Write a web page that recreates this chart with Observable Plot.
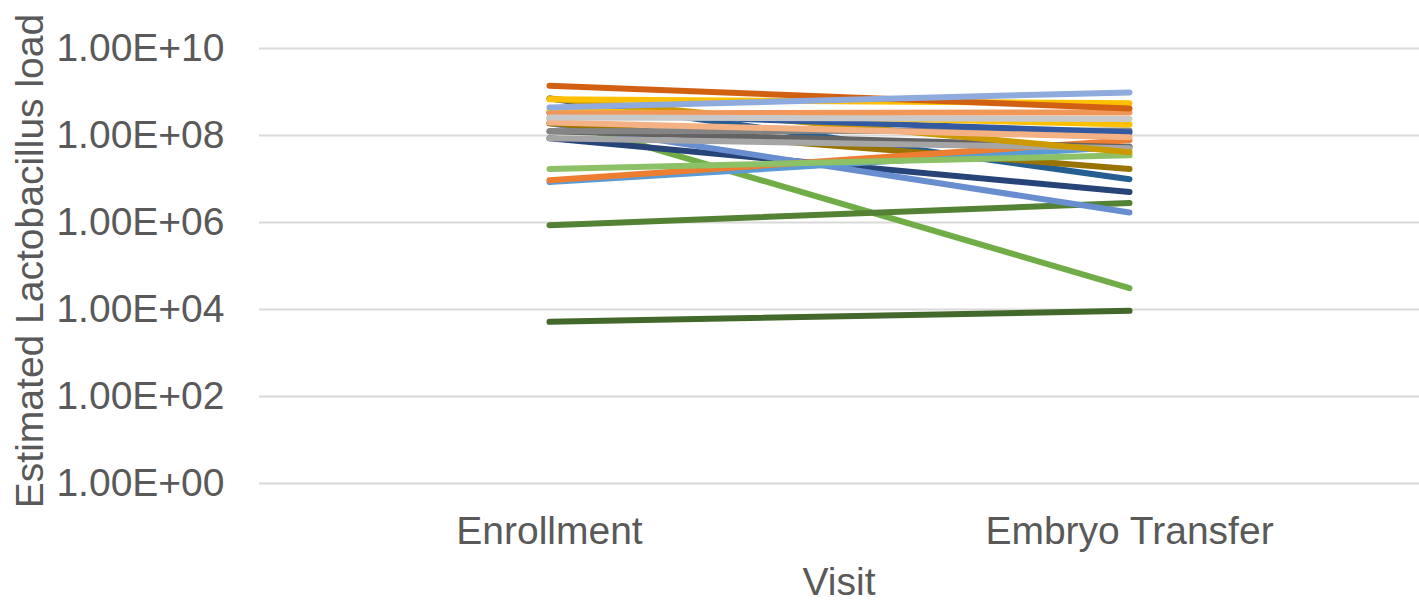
<!DOCTYPE html>
<html>
<head>
<meta charset="utf-8">
<script src="https://cdn.jsdelivr.net/npm/d3@7"></script>
<script src="https://cdn.jsdelivr.net/npm/@observablehq/plot@0.6"></script>
<style>
  html, body { margin: 0; padding: 0; background: #fff; }
</style>
</head>
<body>
<div id="chart"></div>
<script>
// Categories
const visits = ["Enrollment", "Embryo Transfer"];

// Series values (one entry per patient line)
const enrollmentValues = [2.5e8, 5.2e3, 8.7e5, 8.6e7, 1.9e8, 7.1e8, 1.9e8, 8.5e6, 9.4e6, 1.7e7, 1.25e8, 8.6e7, 7.1e8, 1.25e8, 3.4e8, 2.0e8, 3.8e8, 3.2e8, 2.6e8, 6.8e8, 1.4e9, 4.4e8];
const transferValues   = [3.1e4, 9.3e3, 2.8e6, 5.0e6, 1.7e6, 9.9e6, 1.7e7, 5.6e7, 7.8e7, 3.5e7, 5.4e7, 5.1e7, 4.1e7, 1.3e8, 1.18e8, 9.1e7, 1.8e8, 3.4e8, 2.4e8, 5.5e8, 4.2e8, 9.8e8];

// Series colours
const seriesColors = ["#70AD47", "#43682B", "#548235", "#264478", "#698ED0", "#255E91", "#997300", "#5B9BD5", "#ED7D31", "#8CC168", "#636363", "#A5A5A5", "#CC9A00", "#848484", "#335AA1", "#F4B183", "#FFC000", "#F1975A", "#C9C9C9", "#FFC000", "#D26012", "#8FAADC"];

// Tick values
const yTicks = [1e0, 1e2, 1e4, 1e6, 1e8, 1e10];
const yTickLabels = ["1.00E+00", "1.00E+02", "1.00E+04", "1.00E+06", "1.00E+08", "1.00E+10"];

const rows = [];
enrollmentValues.forEach((v, i) => {
  rows.push({series: i, visit: visits[0], value: v});
  rows.push({series: i, visit: visits[1], value: transferValues[i]});
});

const W = 1419, H = 602;
const textColor = "#595959";
const font = "'Liberation Sans', Arial, sans-serif";

const chart = Plot.plot({
  width: W,
  height: H,
  marginLeft: 259,
  marginRight: 0,
  marginTop: 48,
  marginBottom: 119,
  style: {fontFamily: font, fontSize: "39px", color: textColor, background: "#fff"},
  x: {type: "band", domain: visits, padding: 0, axis: null},
  y: {type: "log", domain: [1, 1e10], axis: null},
  color: {type: "ordinal", domain: d3.range(seriesColors.length), range: seriesColors},
  marks: [
    Plot.gridY(yTicks, {stroke: "#d9d9d9", strokeOpacity: 1, strokeWidth: 2}),
    Plot.axisY(yTicks, {
      tickSize: 0, tickPadding: 35, fontSize: 39, fill: textColor,
      tickFormat: d => yTickLabels[yTicks.indexOf(d)], label: null
    }),
    Plot.axisX({tickSize: 0, tickPadding: 33, fontSize: 39, fill: textColor, label: null}),
    Plot.line(rows, {
      x: "visit", y: "value", z: "series", stroke: "series",
      strokeWidth: 6, strokeLinecap: "round", strokeLinejoin: "round"
    })
  ]
});

const svg = d3.select(chart);
svg.append("text")
  .attr("x", 839).attr("y", 595)
  .attr("text-anchor", "middle")
  .attr("fill", textColor)
  .style("font-family", font).style("font-size", "39px")
  .text("Visit");
svg.append("text")
  .attr("transform", "translate(43,261) rotate(-90)")
  .attr("text-anchor", "middle")
  .attr("fill", textColor)
  .style("font-family", font).style("font-size", "39px")
  .text("Estimated Lactobacillus load");

document.getElementById("chart").appendChild(chart);
</script>
</body>
</html>
